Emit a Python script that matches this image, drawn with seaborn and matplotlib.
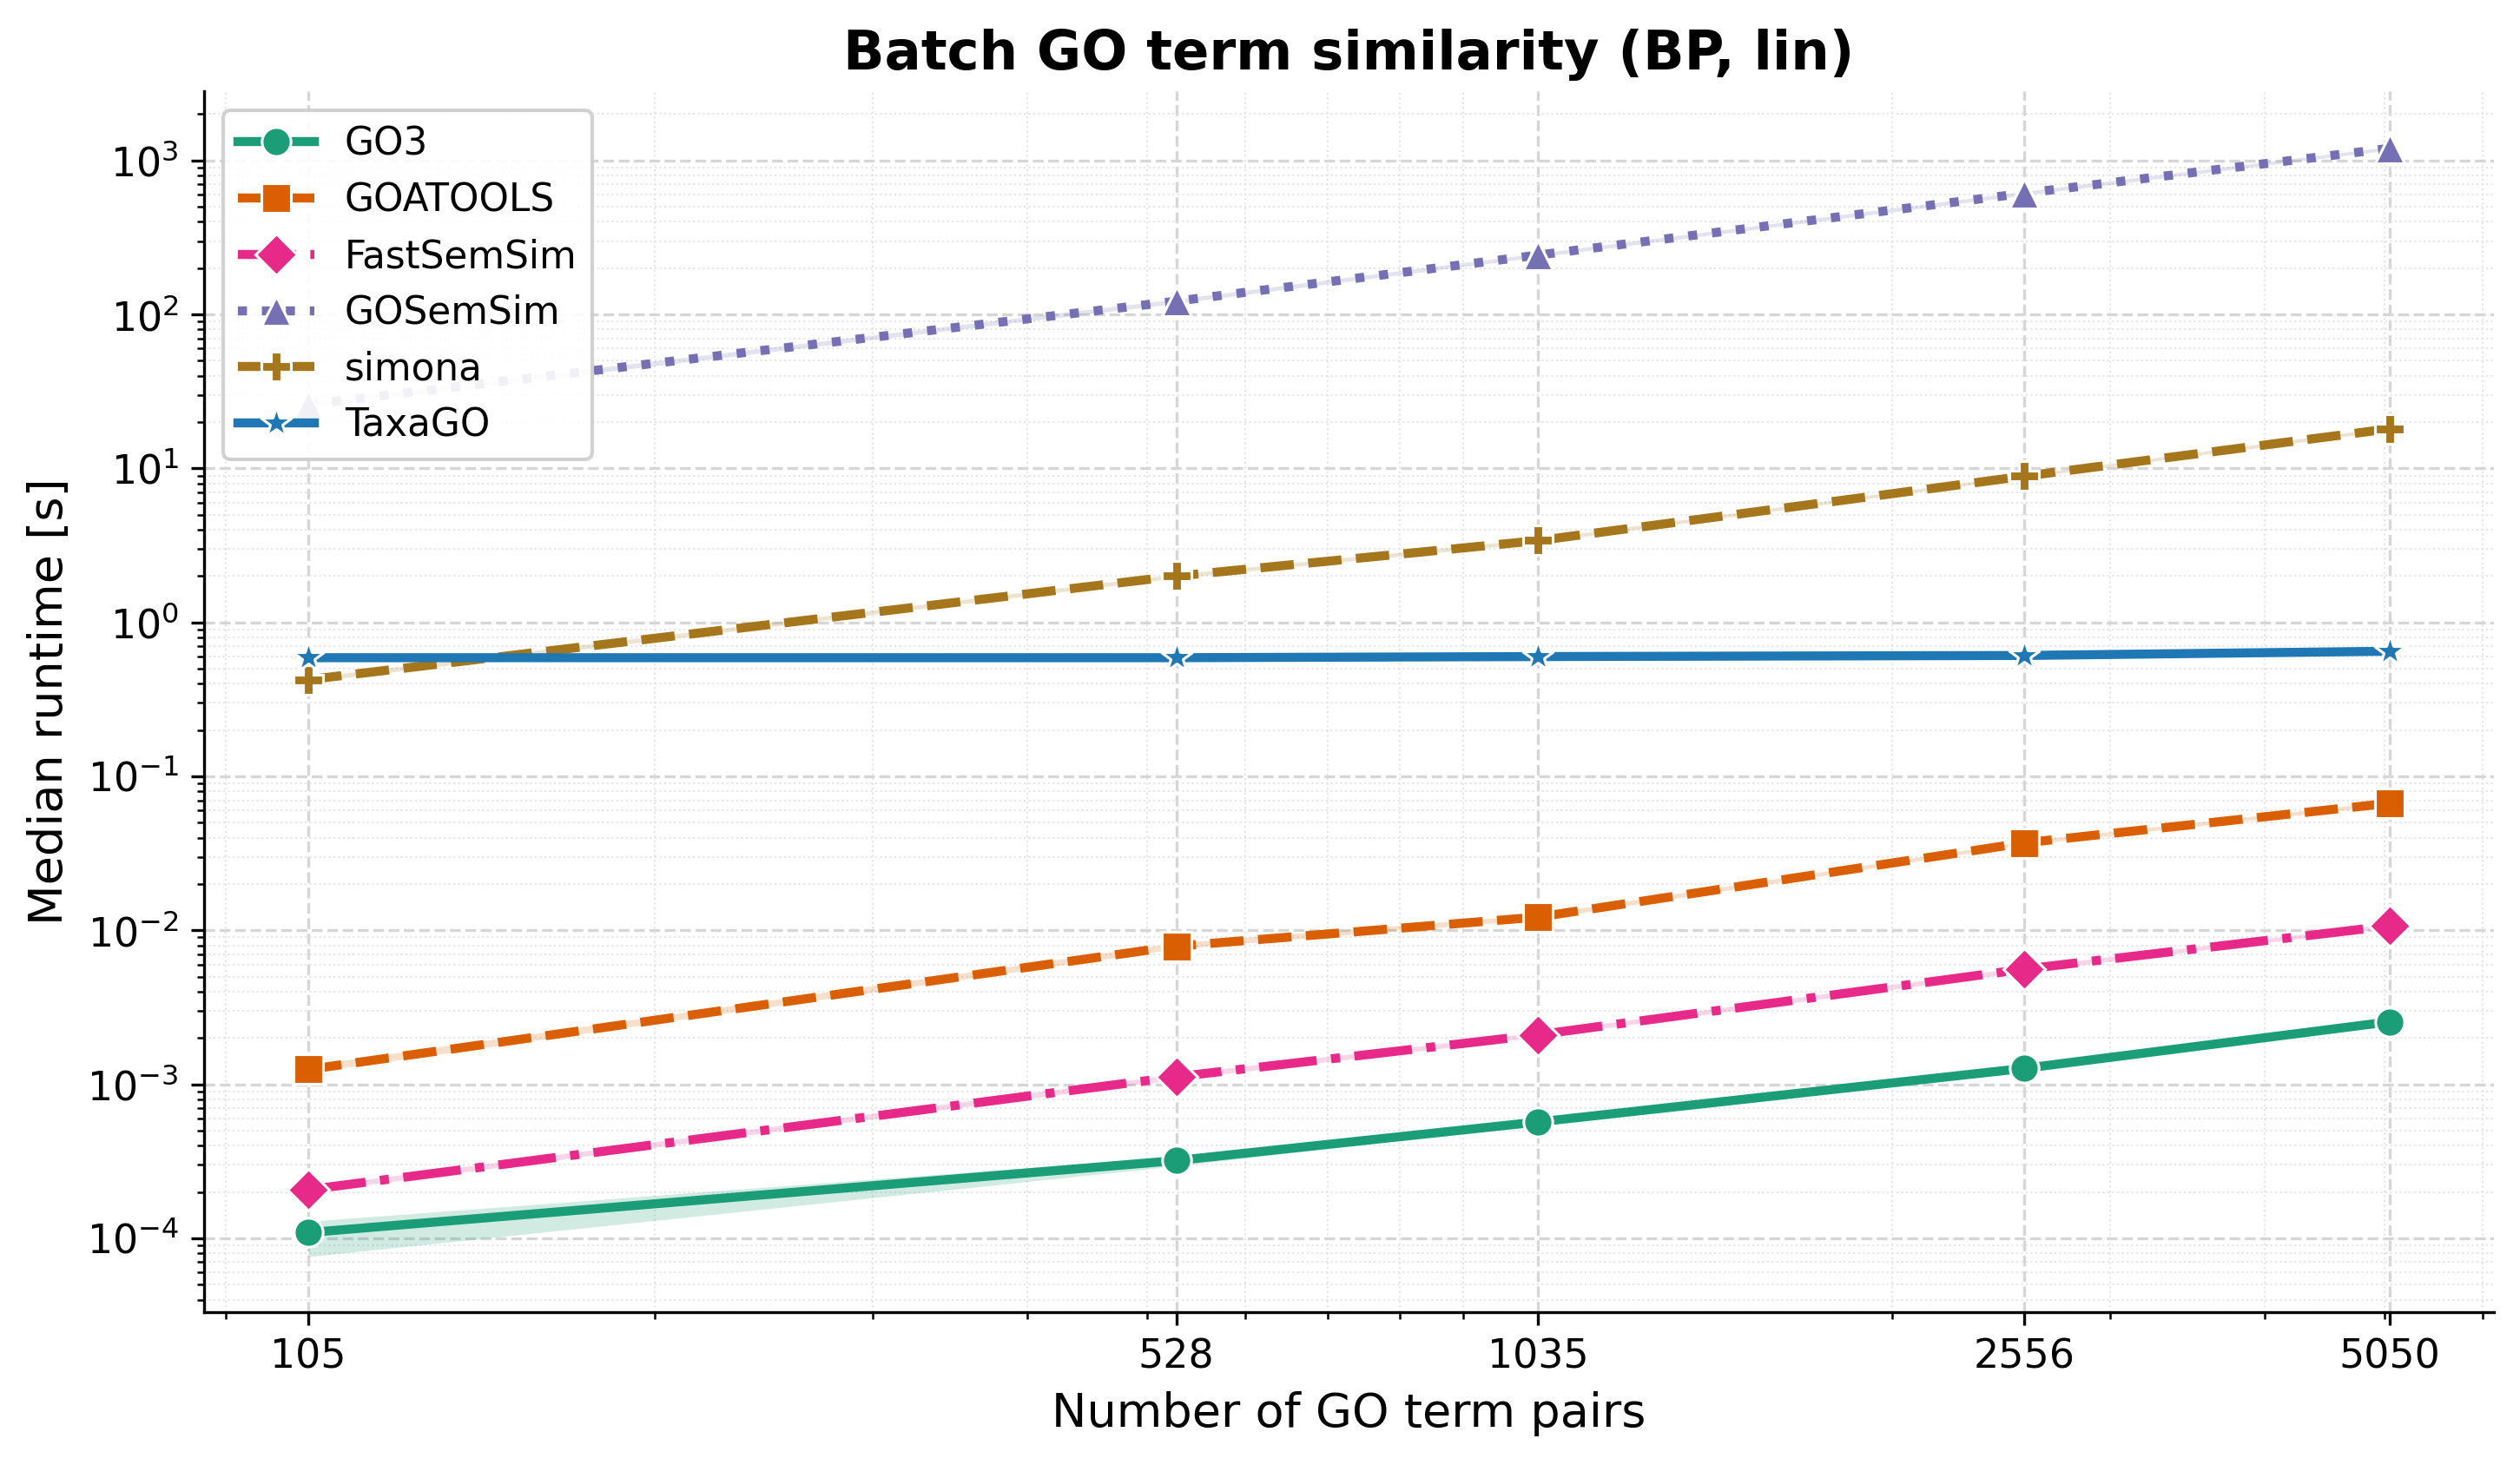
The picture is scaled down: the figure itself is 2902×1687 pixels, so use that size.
import matplotlib
matplotlib.use("Agg")
import matplotlib.pyplot as plt
from matplotlib.ticker import NullFormatter
import numpy as np
import pandas as pd
import seaborn as sns

# number of GO term pairs
pairs = [105, 528, 1035, 2556, 5050]
pair_labels = ["105", "528", "1035", "2556", "5050"]

tools = ["GO3", "GOATOOLS", "FastSemSim", "GOSemSim", "simona", "TaxaGO"]

# median runtime [s] and lower / upper band edges
go3_med = [1.09e-4, 3.2e-4, 5.7e-4, 1.27e-3, 2.55e-3]
go3_lo = [7.6e-5, 2.95e-4, 5.5e-4, 1.23e-3, 2.47e-3]
go3_hi = [1.29e-4, 3.4e-4, 5.9e-4, 1.31e-3, 2.62e-3]

goatools_med = [1.25e-3, 7.9e-3, 1.22e-2, 3.7e-2, 6.7e-2]
goatools_lo = [1.19e-3, 7.6e-3, 1.18e-2, 3.6e-2, 6.5e-2]
goatools_hi = [1.33e-3, 8.3e-3, 1.27e-2, 3.8e-2, 6.9e-2]

fastsemsim_med = [2.07e-4, 1.12e-3, 2.1e-3, 5.6e-3, 1.07e-2]
fastsemsim_lo = [1.99e-4, 1.08e-3, 2.03e-3, 5.4e-3, 1.04e-2]
fastsemsim_hi = [2.16e-4, 1.17e-3, 2.18e-3, 5.8e-3, 1.10e-2]

gosemsim_med = [26, 122, 243, 612, 1200]
gosemsim_lo = [25, 118, 236, 595, 1170]
gosemsim_hi = [27, 126, 250, 630, 1230]

simona_med = [0.425, 2.0, 3.4, 8.9, 18.1]
simona_lo = [0.41, 1.94, 3.3, 8.7, 17.6]
simona_hi = [0.44, 2.06, 3.5, 9.1, 18.6]

taxago_med = [0.59, 0.59, 0.60, 0.61, 0.65]
taxago_lo = [0.58, 0.58, 0.59, 0.60, 0.64]
taxago_hi = [0.60, 0.60, 0.61, 0.62, 0.66]

runtimes = {
    "GO3": (go3_lo, go3_med, go3_hi),
    "GOATOOLS": (goatools_lo, goatools_med, goatools_hi),
    "FastSemSim": (fastsemsim_lo, fastsemsim_med, fastsemsim_hi),
    "GOSemSim": (gosemsim_lo, gosemsim_med, gosemsim_hi),
    "simona": (simona_lo, simona_med, simona_hi),
    "TaxaGO": (taxago_lo, taxago_med, taxago_hi),
}

colors = {"GO3": "#1b9e77", "GOATOOLS": "#d95f02", "FastSemSim": "#e7298a",
          "GOSemSim": "#7570b3", "simona": "#a6761d", "TaxaGO": "#1f77b4"}
styles = {"GO3": "-", "GOATOOLS": "--", "FastSemSim": "-.",
          "GOSemSim": ":", "simona": "--", "TaxaGO": "-"}
markers = {"GO3": "o", "GOATOOLS": "s", "FastSemSim": "D",
           "GOSemSim": "^", "simona": "P", "TaxaGO": "*"}

plt.rcParams["font.family"] = ["DejaVu Sans"]

fig, ax = plt.subplots(figsize=(2902 / 300, 1687 / 300), dpi=300)
fig.subplots_adjust(left=0.081, right=0.9897, top=0.9378, bottom=0.1043)
ax.set_xscale("log")
ax.set_yscale("log")

for tool in tools:
    lo, med, hi = runtimes[tool]
    df = pd.DataFrame({"pairs": pairs * 3, "runtime": list(lo) + list(med) + list(hi)})
    sns.lineplot(data=df, x="pairs", y="runtime", estimator="median", errorbar=("pi", 100),
                 color=colors[tool], linestyle=styles[tool], marker=markers[tool],
                 markersize=8 if tool != "TaxaGO" else 9, linewidth=2.5, label=tool, ax=ax,
                 err_kws={"alpha": 0.2, "linewidth": 0})

ax.set_xticks(pairs)
ax.set_xticklabels(pair_labels)
ax.xaxis.set_minor_formatter(NullFormatter())
ax.tick_params(axis="both", which="major", labelsize=11)

ax.grid(True, which="major", linestyle="--", color="#d6d6d6", linewidth=0.8)
ax.grid(True, which="minor", linestyle=":", color="#e4e4e4", linewidth=0.5)
ax.set_axisbelow(True)

ax.set_xlabel("Number of GO term pairs", fontsize=13)
ax.set_ylabel("Median runtime [s]", fontsize=13)
ax.set_title("Batch GO term similarity (BP, lin)", fontsize=15, fontweight="bold")
sns.despine(ax=ax)

ax.legend(loc="upper left", fontsize=10.5, framealpha=0.9)

fig.savefig("out.png", dpi=300)
